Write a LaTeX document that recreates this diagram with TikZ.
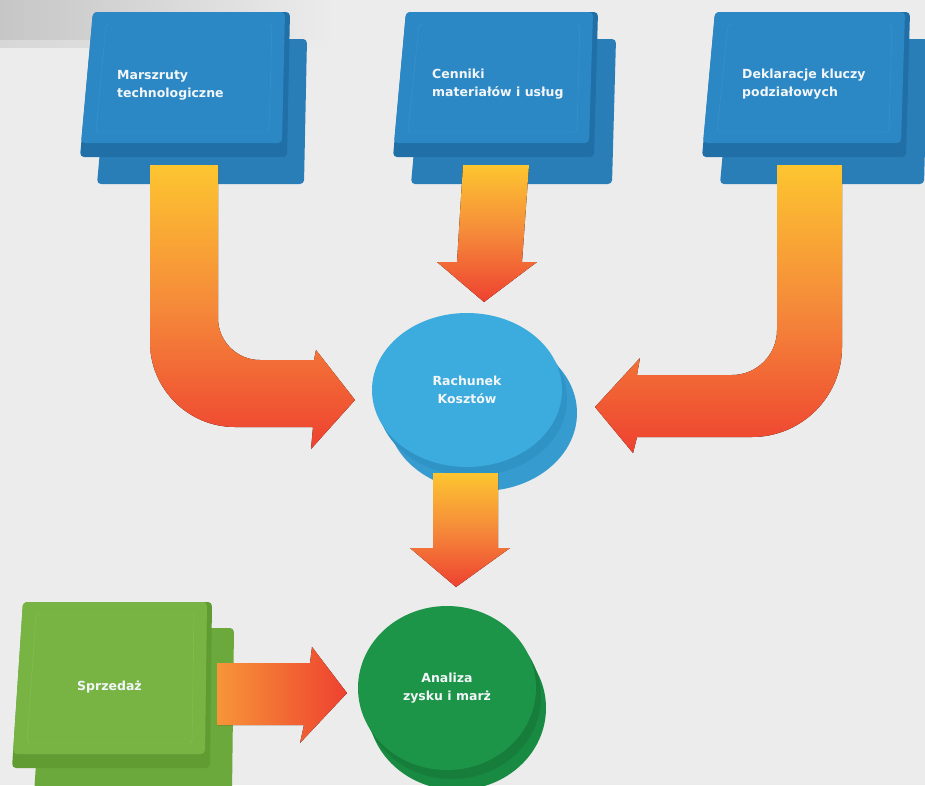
\documentclass[tikz,border=0pt]{standalone}
\usepackage{fontspec}
\setmainfont{DejaVu Sans}
\usetikzlibrary{positioning,calc,shapes.geometric}

\definecolor{bg}{HTML}{ECECEC}
\definecolor{bandgray}{HTML}{C6C6C6}
\definecolor{blueface}{HTML}{2C88C4}
\definecolor{blueedge}{HTML}{206FA7}
\definecolor{blueback}{HTML}{2A7EB8}
\definecolor{blueline}{HTML}{3993CA}
\definecolor{discface}{HTML}{3CABDD}
\definecolor{discrim}{HTML}{2F93C6}
\definecolor{discback}{HTML}{369CD0}
\definecolor{greenface}{HTML}{78B443}
\definecolor{greenedge}{HTML}{619C33}
\definecolor{greenback}{HTML}{6BA93C}
\definecolor{greenline}{HTML}{86BF53}
\definecolor{zfront}{HTML}{1D9548}
\definecolor{zrim}{HTML}{167E3A}
\definecolor{zback}{HTML}{188A41}
\definecolor{arrY}{HTML}{FDC530}
\definecolor{arrO}{HTML}{F5893A}
\definecolor{arrR}{HTML}{EE4130}
\definecolor{lbl}{HTML}{F2F6F9}

\begin{document}
\begin{tikzpicture}[x=1pt, y=-1pt,
    boxtext/.style={font=\bfseries\fontsize{12.5}{18}\selectfont, text=lbl, align=left},
    disctext/.style={ellipse, font=\bfseries\fontsize{12.5}{18}\selectfont, text=lbl, align=center},
    downarrow/.style={top color=arrY, bottom color=arrR, middle color=arrO},
    sidearrow/.style={left color=arrO!80!arrY, right color=arrR}]
                \tikzstyle{every node}+=[inner sep=0pt]
                \useasboundingbox (0,0) rectangle (925,785);
                \fill [bg] (0,0) rectangle (925,785);
                \fill [left color=bandgray, right color=bg] (0,0) rectangle (335,40);
                \fill [left color=bandgray!55!bg, right color=bg] (0,40) rectangle (335,47);
                % Marszruty
                \fill [blueback, rounded corners=4] (110,39) -- (307,39) -- (304,184) -- (97,184) -- cycle;
                \fill [blueedge, rounded corners=4] (93,12) -- (290,12) -- (287,157) -- (80,157) -- cycle;
                \fill [blueface, rounded corners=4] (93,12) -- (285,12) -- (282,143) -- (81,143) -- cycle;
                \draw [blueline, rounded corners=3] (106,24) -- (272,24) -- (269,132) -- (96,132) -- cycle;
                \node [boxtext, anchor=north west] (marsz) at (117,70) {Marszruty\\technologiczne};
                % Cenniki
                \fill [blueback, rounded corners=4] (424,39) -- (616,39) -- (612,184) -- (411,184) -- cycle;
                \fill [blueedge, rounded corners=4] (406,12) -- (598,12) -- (594,157) -- (393,157) -- cycle;
                \fill [blueface, rounded corners=4] (406,12) -- (593,12) -- (589,143) -- (394,143) -- cycle;
                \draw [blueline, rounded corners=3] (419,24) -- (580,24) -- (577,132) -- (408,132) -- cycle;
                \node [boxtext, anchor=north west] (cenn) at (432,69) {Cenniki\\materiałów i usług};
                % Deklaracje
                \fill [blueback, rounded corners=4] (733,39) -- (928,39) -- (924,184) -- (720,184) -- cycle;
                \fill [blueedge, rounded corners=4] (715,12) -- (910,12) -- (906,157) -- (702,157) -- cycle;
                \fill [blueface, rounded corners=4] (715,12) -- (905,12) -- (901,143) -- (703,143) -- cycle;
                \draw [blueline, rounded corners=3] (728,24) -- (892,24) -- (889,132) -- (717,132) -- cycle;
                \node [boxtext, anchor=north west] (dekl) at (742,69) {Deklaracje kluczy\\podziałowych};
                % arrows into Rachunek
                \fill [downarrow] (150,165) -- (218,165) -- (218,318) arc (180:90:42) -- (314,360) -- (316,350) -- (355,400) -- (311,449) -- (313,427) -- (235,427) arc (90:180:85) -- cycle;
                \fill [downarrow] (463,165) -- (529,165) -- (522,262) -- (537,262) -- (484,302) -- (437,262) -- (457,262) -- cycle;
                \fill [downarrow] (595,407) -- (640,358) -- (637,375) -- (732,375) arc (90:0:45) -- (777,165) -- (842,165) -- (842,347) arc (0:90:90) -- (637,437) -- (633,453) -- cycle;
                % Rachunek
                \fill [discback] (482,413) ellipse [x radius=95, y radius=78];
                \fill [discrim] (472,399) ellipse [x radius=95, y radius=77];
                \node [disctext, fill=discface, minimum width=190, minimum height=154] (rach) at (467,390) {Rachunek\\Kosztów};
                \fill [downarrow] (433,473) -- (498,473) -- (498,548) -- (510,548) -- (456,587) -- (410,548) -- (433,548) -- cycle;
                % Sprzedaz
                \fill [greenback, rounded corners=4] (45,628) -- (234,628) -- (232,794) -- (34,794) -- cycle;
                \fill [greenedge, rounded corners=4] (23,602) -- (212,602) -- (210,768) -- (12,768) -- cycle;
                \fill [greenface, rounded corners=4] (23,602) -- (207,602) -- (205,754) -- (13,754) -- cycle;
                \draw [greenline, rounded corners=3] (36,614) -- (194,614) -- (192,743) -- (27,743) -- cycle;
                \node [boxtext, anchor=north west] (sprz) at (77,681) {Sprzedaż};
                % Analiza
                \fill [zback] (457,708) ellipse [x radius=89, y radius=82];
                \fill [zrim] (452,697) ellipse [x radius=89, y radius=82];
                \node [disctext, fill=zfront, minimum width=178, minimum height=164] (anal) at (447,688) {Analiza\\zysku i marż};
                \fill [sidearrow] (217,663) -- (310,663) -- (312,647) -- (347,693) -- (300,743) -- (304,725) -- (217,725) -- cycle;
\end{tikzpicture}
\end{document}
